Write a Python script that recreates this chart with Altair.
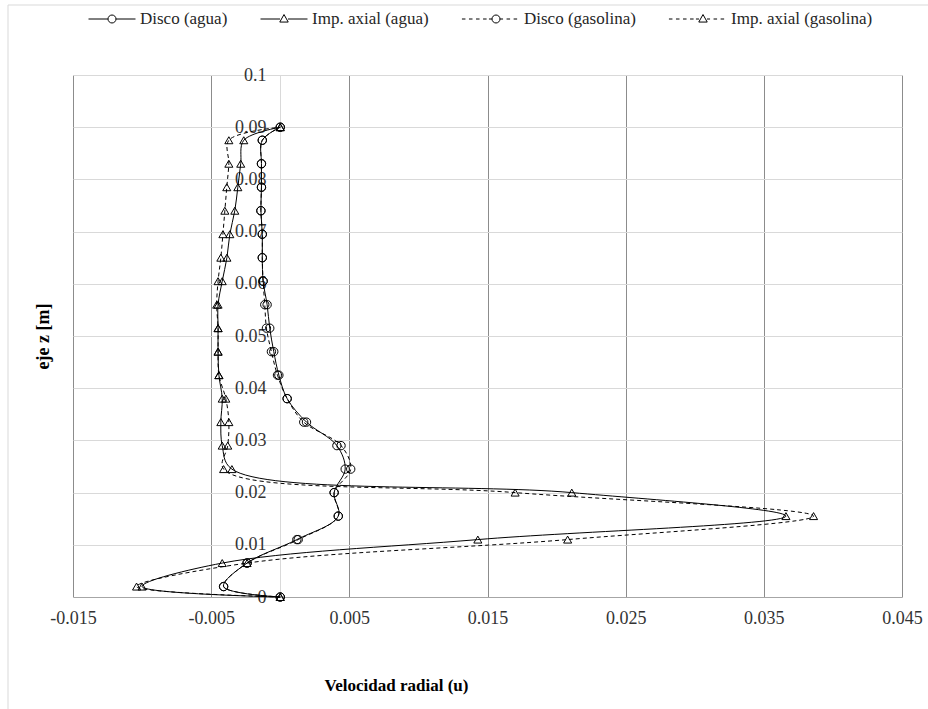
import altair as alt
import pandas as pd

# ---- data ----
z = [0, 0.002, 0.0065, 0.011, 0.0155, 0.02, 0.0245, 0.029, 0.0335, 0.038, 0.0425,
     0.047, 0.0515, 0.056, 0.0605, 0.065, 0.0695, 0.074, 0.0785, 0.083, 0.0875, 0.09]

disco_agua = [0, -0.0041, -0.0024, 0.0012, 0.0042, 0.0039, 0.0047, 0.0041, 0.0019, 0.0005,
              -0.0001, -0.00047, -0.00076, -0.00095, -0.00124, -0.0013, -0.0013, -0.0014,
              -0.00136, -0.00136, -0.0013, 0.0]
imp_agua = [0, -0.0100, -0.0042, 0.0143, 0.0366, 0.0211, -0.0035, -0.0042, -0.0043, -0.0042,
            -0.00444, -0.0045, -0.0045, -0.0045, -0.0042, -0.00386, -0.00365, -0.00329,
            -0.00307, -0.00286, -0.00264, 0.0]
disco_gas = [0, -0.0041, -0.0024, 0.0013, 0.0042, 0.0039, 0.0051, 0.0044, 0.0017, 0.0005,
             -0.0002, -0.00064, -0.0010, -0.00112, -0.00124, -0.0013, -0.0013, -0.0014,
             -0.00136, -0.00136, -0.0013, 0.0]
imp_gas = [0, -0.0104, -0.0024, 0.0208, 0.0386, 0.0170, -0.0041, -0.0038, -0.00372, -0.00394,
           -0.00444, -0.0045, -0.0045, -0.0046, -0.0045, -0.0043, -0.00415, -0.00401,
           -0.00387, -0.00372, -0.00372, 0.0]

series_names = ["Disco (agua)", "Imp. axial (agua)", "Disco (gasolina)", "Imp. axial (gasolina)"]
x_ticks = [-0.015, -0.005, 0.005, 0.015, 0.025, 0.035, 0.045]
y_ticks = [0, 0.01, 0.02, 0.03, 0.04, 0.05, 0.06, 0.07, 0.08, 0.09, 0.1]

rows = []
for name, vals, fluid, kind in [
    (series_names[0], disco_agua, "agua", "disco"),
    (series_names[1], imp_agua, "agua", "imp"),
    (series_names[2], disco_gas, "gasolina", "disco"),
    (series_names[3], imp_gas, "gasolina", "imp"),
]:
    for i, (zz, u) in enumerate(zip(z, vals)):
        rows.append({"serie": name, "u": u, "z": zz, "idx": i, "fluido": fluid, "tipo": kind})
df = pd.DataFrame(rows)

FONT = "'Liberation Serif', 'Times New Roman', Times, serif"

x_enc = alt.X(
    "u:Q",
    scale=alt.Scale(domain=[-0.015, 0.045], nice=False, zero=False),
    axis=alt.Axis(
        values=x_ticks,
        labelExpr="datum.value < 0 ? '-' + format(-datum.value, '.3f') : format(datum.value, '.3f')",
        labelFont=FONT, labelFontSize=18, labelColor="#333333", labelPadding=12,
        labelFlush=False, labelOverlap=False,
        ticks=False, grid=True, gridColor="#8c8c8c", gridWidth=1,
        domainColor="#a6a6a6",
        title="Velocidad radial (u)", titleFont=FONT, titleFontSize=17,
        titleFontWeight="bold", titleColor="#000000",
        titleX=323, titleY=88, titleBaseline="middle", titleAlign="center",
    ),
)
y_enc = alt.Y(
    "z:Q",
    scale=alt.Scale(domain=[0, 0.1], nice=False, zero=False),
    axis=alt.Axis(
        values=y_ticks, format="~g", offset=-207,
        labelFont=FONT, labelFontSize=18, labelColor="#333333", labelPadding=14,
        labelFlush=False, labelOverlap=False,
        ticks=False, tickSize=0, grid=True, gridColor="#d9d9d9", gridWidth=1,
        domainColor="#d9d9d9",
        title="eje z [m]", titleFont=FONT, titleFontSize=18, titleFontWeight="bold",
        titleColor="#000000", titleX=-237, titleY=261, titleBaseline="middle",
        titleAlign="center",
    ),
)

base = alt.Chart(df).encode(x=x_enc, y=y_enc, order=alt.Order("idx:Q"), detail="serie:N")

line_solid = base.transform_filter("datum.fluido == 'agua'").mark_line(
    color="black", strokeWidth=1, interpolate="catmull-rom"
)
line_dash = base.transform_filter("datum.fluido == 'gasolina'").mark_line(
    color="black", strokeWidth=1, strokeDash=[4, 3], interpolate="catmull-rom"
)
pts_circle = base.transform_filter("datum.tipo == 'disco'").mark_point(
    shape="circle", filled=False, color="black", strokeWidth=1, size=70, opacity=1
)
pts_tri = base.transform_filter("datum.tipo == 'imp'").mark_point(
    shape="triangle-up", filled=False, color="black", strokeWidth=1, size=65, opacity=1
)

# legend symbols: line with marker
circ = "M0.17,0A0.17,0.17 0 1,1 -0.17,0A0.17,0.17 0 1,1 0.17,0Z"
tri = "M0,-0.19L0.18,0.13L-0.18,0.13Z"
solid = "M-1,0H-0.17M0.17,0H1"
dashed = ("M-1.45,0H-1.3M-1.15,0H-1.0M-0.85,0H-0.7M-0.55,0H-0.4M-0.3,0H-0.17"
          "M0.17,0H0.3M0.45,0H0.6M0.75,0H0.9")
legend_paths = [solid + circ, solid + tri, dashed + circ, dashed + tri]

legend_layer = base.transform_filter("datum.z < -1").mark_point(
    filled=False, color="black", strokeWidth=1, opacity=1
).encode(
    shape=alt.Shape(
        "serie:N",
        scale=alt.Scale(domain=series_names, range=legend_paths),
        legend=alt.Legend(
            title=None, orient="none", legendX=15, legendY=-80, direction="horizontal",
            columns=4, columnPadding=30, labelOffset=4, padding=0,
            labelFont=FONT, labelFontSize=17, labelColor="#262626", labelLimit=300,
            symbolSize=2209, symbolStrokeColor="black", symbolFillColor="transparent",
            symbolStrokeWidth=1,
        ),
    )
)

border = alt.Chart(pd.DataFrame({"a": [0]})).mark_rect(
    fillOpacity=0, stroke="#d9d9d9", strokeWidth=1
).encode(x=alt.value(-65), x2=alt.value(880), y=alt.value(-70), y2=alt.value(660))

chart = alt.layer(
    border, line_solid, line_dash, pts_circle, pts_tri, legend_layer
).properties(
    width=829, height=522,
    padding={"left": 73, "top": 75, "right": 26, "bottom": 112},
    autosize=alt.AutoSizeParams(type="none"),
    background="white",
).configure_view(stroke=None)

chart.save("out.html", embed_options={"renderer": "svg", "actions": False})
